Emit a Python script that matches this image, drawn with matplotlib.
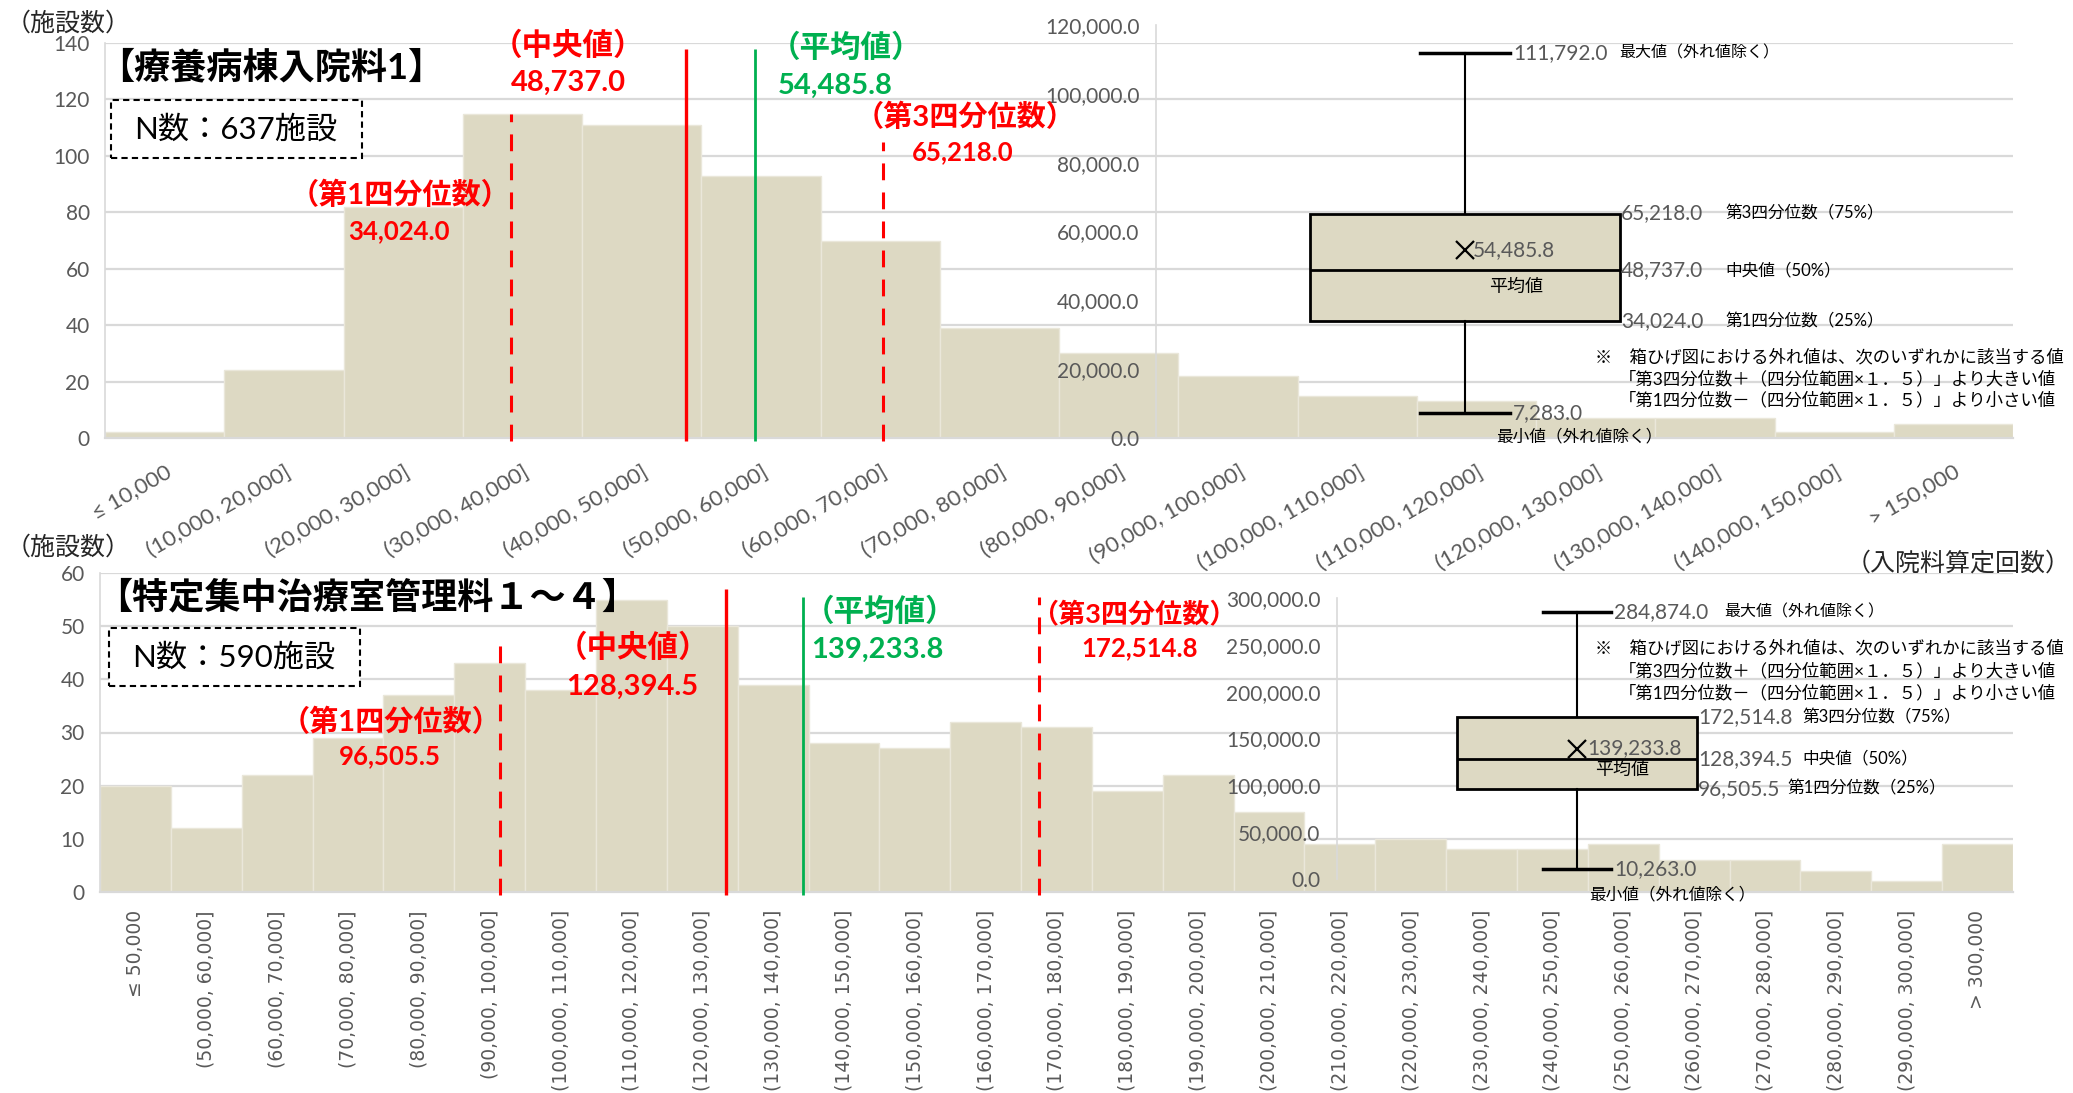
import matplotlib
matplotlib.use("Agg")
import matplotlib.pyplot as plt
from matplotlib.patches import Rectangle
from matplotlib.transforms import blended_transform_factory
import numpy as np

plt.rcParams['font.family'] = ['Lato', 'Noto Sans CJK JP']
plt.rcParams['axes.unicode_minus'] = False

# ---------------------------------------------------------------- data
top_labels = ['≤ 10,000', '(10,000, 20,000]', '(20,000, 30,000]', '(30,000, 40,000]',
              '(40,000, 50,000]', '(50,000, 60,000]', '(60,000, 70,000]', '(70,000, 80,000]',
              '(80,000, 90,000]', '(90,000, 100,000]', '(100,000, 110,000]', '(110,000, 120,000]',
              '(120,000, 130,000]', '(130,000, 140,000]', '(140,000, 150,000]', '> 150,000']
top_counts = [2, 24, 82, 115, 111, 93, 70, 39, 30, 22, 15, 13, 7, 7, 2, 5]
top_bin_start, top_bin_width = 0, 10000
top_stats = {'min': 7283.0, 'q1': 34024.0, 'med': 48737.0, 'mean': 54485.8,
             'q3': 65218.0, 'max': 111792.0}
top_title = '【療養病棟入院料1】'
top_n = 637

bot_labels = ['≤ 50,000', '(50,000, 60,000]', '(60,000, 70,000]', '(70,000, 80,000]',
              '(80,000, 90,000]', '(90,000, 100,000]', '(100,000, 110,000]', '(110,000, 120,000]',
              '(120,000, 130,000]', '(130,000, 140,000]', '(140,000, 150,000]', '(150,000, 160,000]',
              '(160,000, 170,000]', '(170,000, 180,000]', '(180,000, 190,000]', '(190,000, 200,000]',
              '(200,000, 210,000]', '(210,000, 220,000]', '(220,000, 230,000]', '(230,000, 240,000]',
              '(240,000, 250,000]', '(250,000, 260,000]', '(260,000, 270,000]', '(270,000, 280,000]',
              '(280,000, 290,000]', '(290,000, 300,000]', '> 300,000']
bot_counts = [20, 12, 22, 29, 37, 43, 38, 55, 50, 39, 28, 27, 32, 31, 19, 22, 15, 9,
              10, 8, 8, 9, 6, 6, 4, 2, 9]
bot_bin_start, bot_bin_width = 40000, 10000
bot_stats = {'min': 10263.0, 'q1': 96505.5, 'med': 128394.5, 'mean': 139233.8,
             'q3': 172514.8, 'max': 284874.0}
bot_title = '【特定集中治療室管理料１～４】'
bot_n = 590

# ---------------------------------------------------------------- style
BAR = '#DDD9C3'
GRID = '#D9D9D9'
GRAY = '#595959'
RED = '#FF0000'
GREEN = '#00B050'
W, H = 2073, 1093


def fx(px):
    return px / W


def fy(py):
    return 1 - py / H


def fmt(v):
    return f'{v:,.1f}'


fig = plt.figure(figsize=(W / 100, H / 100), dpi=100)


def hist_axes(rect, labels, counts, ymax, ystep, bottom_rot):
    ax = fig.add_axes(rect)
    x = np.arange(len(counts))
    ax.bar(x, counts, width=1.0, align='edge', color=BAR, edgecolor='#EAE7DA', linewidth=1, zorder=2)
    ax.set_xlim(0, len(counts))
    ax.set_ylim(0, ymax)
    ax.set_yticks(np.arange(0, ymax + 1, ystep))
    ax.grid(axis='y', color=GRID, linewidth=1.6)
    ax.set_axisbelow(True)
    for s in ['top', 'right']:
        ax.spines[s].set_visible(False)
    ax.spines['left'].set_color(GRID)
    ax.spines['left'].set_linewidth(1.2)
    ax.spines['bottom'].set_color(GRID)
    ax.spines['bottom'].set_linewidth(1.6)
    ax.tick_params(axis='y', length=0, pad=11, labelsize=15, labelcolor=GRAY)
    ax.set_xticks(x + 0.5)
    if bottom_rot == 90:
        ax.set_xticklabels(labels, rotation=90, fontsize=13.5, color=GRAY,
                           family=['DejaVu Sans'])
        ax.tick_params(axis='x', length=0, pad=13)
    else:
        ax.set_xticklabels(labels, rotation=bottom_rot, ha='right', va='top',
                           rotation_mode='anchor', fontsize=16, color=GRAY)
        ax.tick_params(axis='x', length=0, pad=17)
    return ax


def stat_lines(ax, stats, start, width, tops, low):
    # lines sit where the statistic falls inside its bin
    pos = {k: (stats[k] - start) / width for k in ['q1', 'med', 'mean', 'q3']}
    ax.vlines(pos['q1'], low, tops['q1'], colors=RED, linestyles=(0, (5.5, 4)), linewidth=2.2, zorder=4, clip_on=False)
    ax.vlines(pos['q3'], low, tops['q3'], colors=RED, linestyles=(0, (5.5, 4)), linewidth=2.2, zorder=4, clip_on=False)
    ax.vlines(pos['med'], low, tops['med'], colors=RED, linewidth=2.4, zorder=4, clip_on=False)
    ax.vlines(pos['mean'], low, tops['mean'], colors=GREEN, linewidth=2.0, zorder=4, clip_on=False)
    return pos


def box_inset(rect, stats, center, bw, cw, ymax, ystep):
    ax = fig.add_axes(rect)
    ax.patch.set_alpha(0)
    st = [{'med': stats['med'], 'q1': stats['q1'], 'q3': stats['q3'], 'whislo': stats['min'],
           'whishi': stats['max'], 'mean': stats['mean'], 'fliers': [], 'label': ''}]
    ax.bxp(st, positions=[center], widths=[bw], capwidths=[cw], showmeans=True, patch_artist=True,
           manage_ticks=False,
           boxprops=dict(facecolor=BAR, edgecolor='black', linewidth=2),
           medianprops=dict(color='black', linewidth=2),
           whiskerprops=dict(color='black', linewidth=1.5),
           capprops=dict(color='black', linewidth=2.5),
           meanprops=dict(marker='x', markeredgecolor='black', markersize=13, markeredgewidth=1.6))
    ax.set_xlim(0, 1)
    ax.set_ylim(0, ymax)
    ax.set_yticks(np.arange(0, ymax + 1, ystep))
    ax.set_yticklabels([fmt(v) for v in np.arange(0, ymax + 1, ystep)])
    ax.set_xticks([])
    for s in ['top', 'right', 'bottom']:
        ax.spines[s].set_visible(False)
    ax.spines['left'].set_color(GRID)
    ax.spines['left'].set_linewidth(1.2)
    ax.tick_params(axis='y', length=0, pad=12, labelsize=15, labelcolor=GRAY)
    return ax


def box_label(ax, x, v, s, dy=0, **kw):
    tr = blended_transform_factory(fig.transFigure, ax.transData)
    kw.setdefault('ha', 'left')
    ax.annotate(s, xy=(fx(x), v), xycoords=tr, xytext=(0, dy), textcoords='offset points',
                va='center', **kw)


def red_label(x, y, s, size, color=RED, ha='center'):
    fig.text(fx(x), fy(y), s, fontsize=size, fontweight='bold', color=color, ha=ha, va='center')


NOTE = ['※　箱ひげ図における外れ値は、次のいずれかに該当する値',
        '「第3四分位数＋（四分位範囲×１．５）」より大きい値',
        '「第1四分位数－（四分位範囲×１．５）」より小さい値']

# ---------------------------------------------------------------- top chart
ax1 = hist_axes([fx(105), fy(438), fx(2013) - fx(105), (438 - 43) / H],
                top_labels, top_counts, 140, 20, 30)
stat_lines(ax1, top_stats, top_bin_start, top_bin_width,
           {'q1': 115, 'q3': 105, 'med': 138, 'mean': 138}, -1.2)

fig.text(fx(6), fy(23), '（施設数）', fontsize=18, color='#262626', va='center')
fig.text(fx(98), fy(67), top_title, fontsize=26, fontweight='bold', va='center')
fig.patches.append(Rectangle((fx(111), fy(158)), fx(362) - fx(111), (158 - 100) / H,
                             transform=fig.transFigure, fc='white', ec='black', lw=1.5,
                             ls=(0, (3, 2)), zorder=5))
fig.text(fx(236), fy(129), f'N数：{top_n}施設', fontsize=22.5, ha='center', va='center', zorder=6)

red_label(400, 195, '（第1四分位数）', 21)
red_label(399, 231, fmt(top_stats['q1']), 18.5)
red_label(568, 45, '（中央値）', 22)
red_label(568, 83, fmt(top_stats['med']), 21)
red_label(770, 47, '（平均値）', 22, GREEN, 'left')
red_label(778, 86, fmt(top_stats['mean']), 21, GREEN, 'left')
red_label(965, 117, '（第3四分位数）', 21)
red_label(963, 152, fmt(top_stats['q3']), 18.5)

in1 = box_inset([fx(1156), fy(438), fx(2013) - fx(1156), (438 - 25) / H],
                top_stats, 0.3606, 0.362, 0.106, 120000, 20000)
box_label(in1, 1513, top_stats['max'], fmt(top_stats['max']), fontsize=15, color=GRAY)
box_label(in1, 1619, top_stats['max'], '最大値（外れ値除く）', fontsize=11.5)
for k, name in [('q3', '第3四分位数（75%）'), ('med', '中央値（50%）'), ('q1', '第1四分位数（25%）')]:
    box_label(in1, 1621, top_stats[k], fmt(top_stats[k]), fontsize=15, color=GRAY)
    box_label(in1, 1725, top_stats[k], name, fontsize=12)
box_label(in1, 1473, top_stats['mean'], fmt(top_stats['mean']), fontsize=15, color=GRAY)
box_label(in1, 1516, top_stats['med'], '平均値', dy=-12, fontsize=13, ha='center')
box_label(in1, 1513, top_stats['min'], fmt(top_stats['min']), fontsize=15, color=GRAY)
box_label(in1, 1496, top_stats['min'], '最小値（外れ値除く）', dy=-17, fontsize=12)
for i, line in enumerate(NOTE):
    fig.text(fx(1595 if i == 0 else 1619), fy(357 + 21.5 * i), line, fontsize=12.5, va='center')

# ---------------------------------------------------------------- bottom chart
ax2 = hist_axes([fx(100), fy(892), fx(2013) - fx(100), (892 - 573) / H],
                bot_labels, bot_counts, 60, 10, 90)
stat_lines(ax2, bot_stats, bot_bin_start, bot_bin_width,
           {'q1': 48, 'q3': 55.5, 'med': 57, 'mean': 55.5}, -0.6)

fig.text(fx(6), fy(547), '（施設数）', fontsize=18, color='#262626', va='center')
fig.text(fx(2071), fy(563), '（入院料算定回数）', fontsize=18, color='#262626', ha='right', va='center')
fig.text(fx(96), fy(597), bot_title, fontsize=26, fontweight='bold', va='center')
fig.patches.append(Rectangle((fx(109), fy(686)), fx(360) - fx(109), (686 - 628) / H,
                             transform=fig.transFigure, fc='white', ec='black', lw=1.5,
                             ls=(0, (3, 2)), zorder=5))
fig.text(fx(234), fy(657), f'N数：{bot_n}施設', fontsize=22.5, ha='center', va='center', zorder=6)

red_label(391, 722, '（第1四分位数）', 21)
red_label(390, 756, fmt(bot_stats['q1']), 18.5)
red_label(633, 647, '（中央値）', 22)
red_label(632, 687, fmt(bot_stats['med']), 21)
red_label(804, 611, '（平均値）', 22, GREEN, 'left')
red_label(811, 650, fmt(bot_stats['mean']), 21, GREEN, 'left')
red_label(1134, 614, '（第3四分位数）', 19.5)
red_label(1140, 648, fmt(bot_stats['q3']), 18.5)

in2 = box_inset([fx(1337), fy(879), fx(2013) - fx(1337), (879 - 598) / H],
                bot_stats, 0.355, 0.355, 0.102, 300000, 50000)
box_label(in2, 1614, bot_stats['max'], fmt(bot_stats['max']), fontsize=15, color=GRAY)
box_label(in2, 1724, bot_stats['max'], '最大値（外れ値除く）', fontsize=11.5)
for k, name, nx in [('q3', '第3四分位数（75%）', 1802), ('med', '中央値（50%）', 1802),
                    ('q1', '第1四分位数（25%）', 1787)]:
    box_label(in2, 1698, bot_stats[k], fmt(bot_stats[k]), fontsize=15, color=GRAY)
    box_label(in2, nx, bot_stats[k], name, fontsize=12)
box_label(in2, 1587, bot_stats['mean'], fmt(bot_stats['mean']), fontsize=15, color=GRAY)
box_label(in2, 1622, bot_stats['med'], '平均値', dy=-8, fontsize=13, ha='center')
box_label(in2, 1614, bot_stats['min'], fmt(bot_stats['min']), fontsize=15, color=GRAY)
box_label(in2, 1589, bot_stats['min'], '最小値（外れ値除く）', dy=-18, fontsize=12)
for i, line in enumerate(NOTE):
    fig.text(fx(1595 if i == 0 else 1619), fy(648 + 22.5 * i), line, fontsize=12.5, va='center')

fig.savefig('out.png', dpi=100)
